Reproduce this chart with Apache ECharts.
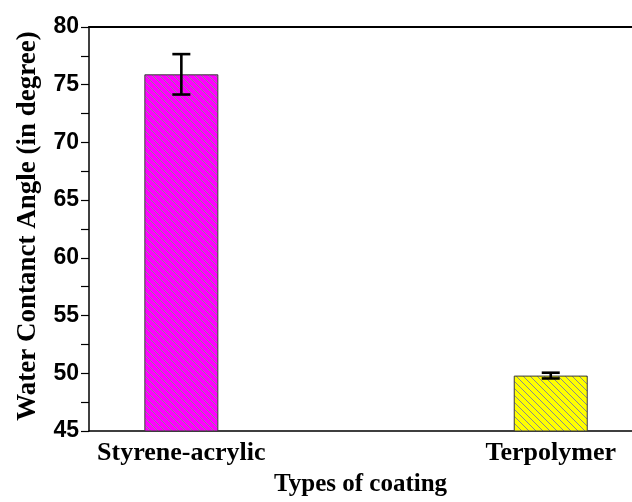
<!DOCTYPE html>
<html>
<head>
<meta charset="utf-8">
<script src="https://cdn.jsdelivr.net/npm/echarts@6/dist/echarts.min.js"></script>
<style>
  html, body { margin: 0; padding: 0; background: #ffffff; overflow: hidden; }
  #chart { width: 632px; height: 502px; }
</style>
</head>
<body>
<div id="chart"></div>
<script>
// ---- data ----
const categories = ['Styrene-acrylic', 'Terpolymer'];
const positions = [1, 2];
const contactAngle = [75.9, 49.8];
const errorSize = [1.75, 0.25];
const yMin = 45, yMax = 80, yStep = 5;
const barColors = ['#FF00FF', '#FFFF00'];

function hatch(fill) {
  const s = 7;
  const c = document.createElement('canvas');
  c.width = s; c.height = s;
  const g = c.getContext('2d');
  g.fillStyle = fill;
  g.fillRect(0, 0, s, s);
  g.strokeStyle = '#8a8a8a';
  g.lineWidth = 1;
  g.beginPath();
  g.moveTo(-1, -1); g.lineTo(s + 1, s + 1);
  g.moveTo(-1, s - 1); g.lineTo(1, s + 1);
  g.moveTo(s - 1, -1); g.lineTo(s + 1, 1);
  g.stroke();
  return { image: c, repeat: 'repeat' };
}

const barData = positions.map((p, i) => ({
  value: [p, contactAngle[i]],
  itemStyle: { color: hatch(barColors[i]) }
}));
const errData = positions.map((p, i) => [p, contactAngle[i] - errorSize[i], contactAngle[i] + errorSize[i]]);

const chart = echarts.init(document.getElementById('chart'), null, { renderer: 'canvas' });
const serif = '"Liberation Serif", "Times New Roman", serif';
const sans = '"Liberation Sans", Arial, sans-serif';

chart.setOption({
  animation: false,
  backgroundColor: '#ffffff',
  grid: { left: 89, right: 0, top: 27, height: 409, containLabel: false },
  xAxis: [{
    type: 'value',
    min: 0.75, max: 2.22,
    position: 'bottom',
    name: 'Types of coating',
    nameLocation: 'middle',
    nameGap: 41,
    nameTextStyle: { fontFamily: serif, fontWeight: 'bold', fontSize: 25, color: '#000' },
    axisLine: { show: true, lineStyle: { color: '#000', width: 1.5 } },
    axisTick: { show: false },
    splitLine: { show: false },
    axisLabel: {
      customValues: positions,
      formatter: v => categories[positions.indexOf(v)] || '',
      fontFamily: serif, fontWeight: 'bold', fontSize: 26, color: '#000', margin: 9
    }
  }, {
    type: 'value',
    min: 0.75, max: 2.22,
    position: 'top',
    axisLine: { show: true, lineStyle: { color: '#000', width: 2 } },
    axisTick: { show: false },
    axisLabel: { show: false },
    splitLine: { show: false }
  }],
  yAxis: {
    type: 'value',
    min: yMin, max: yMax, interval: yStep,
    name: 'Water Contanct Angle (in degree)',
    nameLocation: 'middle',
    nameGap: 47,
    nameTextStyle: { fontFamily: serif, fontWeight: 'bold', fontSize: 27, color: '#000', padding: [0, 0, 0, 6] },
    axisLine: { show: true, lineStyle: { color: '#000', width: 1.5 } },
    axisTick: { show: true, inside: false, length: 8, lineStyle: { color: '#000', width: 1.2 } },
    minorTick: { show: true, splitNumber: 2, length: 8, lineStyle: { color: '#000', width: 1.2 } },
    splitLine: { show: false },
    axisLabel: { fontFamily: sans, fontWeight: 'bold', fontSize: 23, color: '#000', margin: 10 }
  },
  series: [{
    type: 'bar',
    xAxisIndex: 0,
    barWidth: 74,
    data: barData,
    itemStyle: { borderColor: '#3a3a3a', borderWidth: 1 }
  }, {
    type: 'custom',
    xAxisIndex: 0,
    data: errData,
    z: 10,
    renderItem: function (params, api) {
      const x = api.value(0);
      const lo = api.coord([x, api.value(1)]);
      const hi = api.coord([x, api.value(2)]);
      const hw = 9;
      const st = { stroke: '#000', lineWidth: 2.6 };
      return {
        type: 'group',
        children: [
          { type: 'line', shape: { x1: hi[0], y1: hi[1], x2: lo[0], y2: lo[1] }, style: st },
          { type: 'line', shape: { x1: hi[0] - hw, y1: hi[1], x2: hi[0] + hw, y2: hi[1] }, style: st },
          { type: 'line', shape: { x1: lo[0] - hw, y1: lo[1], x2: lo[0] + hw, y2: lo[1] }, style: st }
        ]
      };
    }
  }]
});
</script>
</body>
</html>
